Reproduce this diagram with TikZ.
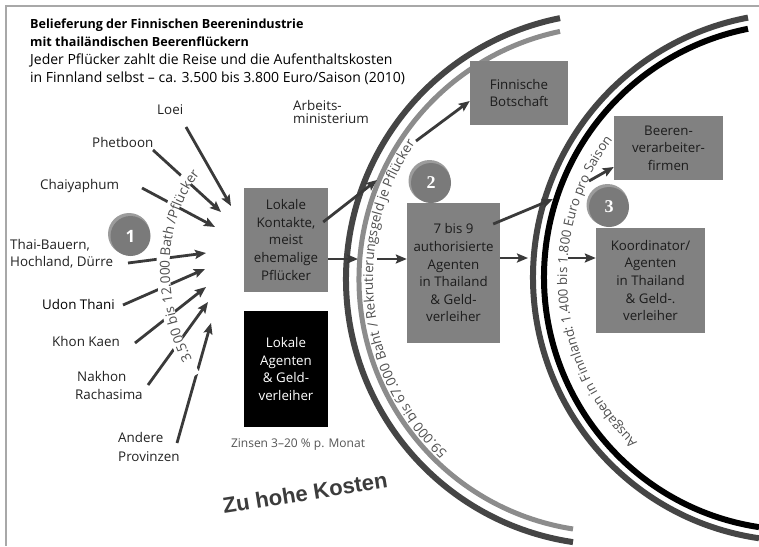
\documentclass[tikz,border=0pt]{standalone}
\usepackage{fontspec}
\setmainfont{Open Sans}
\newfontfamily\zufont{Liberation Sans}
\newfontfamily\numserif{Liberation Serif}
\usetikzlibrary{arrows.meta,decorations.text}
\definecolor{arr}{HTML}{3A3A3A}
\definecolor{darkarc}{HTML}{454545}
\definecolor{lightarc}{HTML}{8C8C8C}
\definecolor{boxgray}{HTML}{818181}
\definecolor{boxtext}{HTML}{1C1C1C}
\definecolor{arctext}{HTML}{505050}
\definecolor{framec}{HTML}{A8A8A8}
\definecolor{badge}{HTML}{7A7A7A}
\definecolor{badgehi}{HTML}{9C9C9C}
\definecolor{labtext}{HTML}{222222}
\definecolor{zinscol}{HTML}{555555}
\definecolor{zucol}{HTML}{3C3C3C}
\newcommand\bxfont{\fontsize{13.3}{17.6}\selectfont}
\newcommand\lbfont{\fontsize{13.4}{15}\selectfont}
\newcommand\ttfnt{\fontsize{12.6}{15}\selectfont}
\newcommand\subfnt{\fontsize{14}{15}\selectfont}
\newcommand\arcfnta{\fontsize{13.5}{14}\selectfont}
\newcommand\arcfntb{\fontsize{13.2}{14}\selectfont}
\newcommand\arcfntc{\fontsize{13.6}{14}\selectfont}
\begin{document}
\begin{tikzpicture}[x=1pt,y=-1pt,
  conn/.style={draw=arr, line width=2.8pt, -{Stealth[length=11pt,width=9pt,inset=2pt]}},
  graybox/.style={fill=boxgray, text=boxtext, align=center, inner sep=0pt, font=\bxfont},
  lab/.style={anchor=base west, inner sep=0pt, font=\lbfont, text=labtext},
  ttl/.style={anchor=base west, inner sep=0pt, font=\ttfnt\bfseries, text=black},
  sub/.style={anchor=base west, inner sep=0pt, font=\subfnt, text=black},
  badgec/.style={circle, fill=badge, minimum size=40pt, inner sep=0pt, text=white},
  zu/.style={inner sep=0pt, rotate=9, font=\zufont\bfseries\fontsize{22}{22}\selectfont}]
\useasboundingbox (0,0) rectangle (759,546);
\fill[white] (0,0) rectangle (759,546);
% frame
\draw[framec, line width=2pt] (5,6) -- (759,6);
\draw[framec, line width=2pt] (6,5) -- (6,546);
% arc centres
\coordinate (C1) at (612,279);
\coordinate (C2) at (797,277);
% arcs
\draw[darkarc, line width=6pt] (C1) ++(-98.43:266pt) arc[start angle=-98.43, end angle=-258.73, radius=266pt];
\draw[lightarc, line width=5pt] (C1) ++(-98.87:253pt) arc[start angle=-98.87, end angle=-258.14, radius=253pt];
\draw[darkarc, line width=6pt] (C2) ++(-98.28:264pt) arc[start angle=-98.28, end angle=-259.30, radius=264pt];
\draw[black, line width=6pt] (C2) ++(-98.64:253pt) arc[start angle=-98.64, end angle=-258.83, radius=253pt];
% arc texts
\path[decorate, decoration={text along path, text color=arctext, text align=center,
  text={|\arcfnta|59.000 bis 67.000 Baht / Rekrutierungsgeld je Pflücker}}]
  (C1) ++(-124:239pt) arc[start angle=-124, end angle=-224, radius=239pt];
\path[decorate, decoration={text along path, text color=arctext, text align=center,
  text={|\arcfntb|Ausgaben in Finnland: 1.400 bis 1.800 Euro pro Saison}}]
  (C2) ++(-125.3:230pt) arc[start angle=-125.3, end angle=-225.3, radius=230pt];
% title
\node[ttl] (t1) at (30,28) {Belieferung der Finnischen Beerenindustrie};
\node[ttl] (t2) at (30,46) {mit thailändischen Beerenflückern};
\node[sub] (t3) at (30,64) {Jeder Pflücker zahlt die Reise und die Aufenthaltskosten};
\node[sub] (t4) at (30,82) {in Finnland selbst – ca. 3.500 bis 3.800 Euro/Saison (2010)};
% province labels
\node[lab] (loei) at (157,114) {Loei};
\node[lab] (phet) at (92,147) {Phetboon};
\node[lab] (chai) at (40,189) {Chaiyaphum};
\node[lab] (thai1) at (10,249) {Thai-Bauern,};
\node[lab] (thai2) at (10,266) {Hochland, Dürre};
\node[lab, text=black] (udon) at (42,309) {Udon Thani};
\node[lab] (khon) at (52,346) {Khon Kaen};
\node[lab] (nak1) at (77,381) {Nakhon};
\node[lab] (nak2) at (75,399) {Rachasima};
\node[lab] (and1) at (118,442) {Andere};
\node[lab] (and2) at (118,461) {Provinzen};
% province arrows
\coordinate (s1) at (186,127); \coordinate (e1) at (231,206);
\coordinate (s2) at (153,150); \coordinate (e2) at (221,212);
\coordinate (s3) at (142,188); \coordinate (e3) at (215,227);
\coordinate (s4) at (128,263); \coordinate (e4) at (206,253);
\coordinate (s5) at (123,305); \coordinate (e5) at (205,269);
\coordinate (s6) at (135,343); \coordinate (e6) at (206,287);
\coordinate (s7) at (148,385); \coordinate (e7) at (208,302);
\coordinate (s8) at (177,443); \coordinate (e8) at (211,323);
\foreach \i in {1,...,8} {\draw[conn] (s\i) -- (e\i);}
% knock-out and curved label
\draw[white, line width=13pt] (194,376) .. controls (152,305) and (152,213) .. (199,163);
\path[decorate, decoration={text along path, text color=arctext, text align=center,
  text={|\arcfntc|3.500 bis 12.000 Bath /Pflücker}}]
  (200,373) .. controls (158,305) and (158,215) .. (210,162);
% badge 1
\fill[badgehi] (129,234) circle[radius=21pt];
\node[badgec, font=\bfseries\fontsize{17}{17}\selectfont] (b1) at (130.5,236) {1};
% boxes
\node[graybox, minimum width=84pt, minimum height=104pt] (kontakte) at (286,240)
  {Lokale\\Kontakte,\\meist\\ehemalige\\Pflücker};
\node[fill=black, text=white, align=center, inner sep=0pt, font=\bxfont,
  minimum width=84pt, minimum height=116pt] (lokag) at (286,369)
  {Lokale\\Agenten\\\& Geld-\\verleiher};
\node[graybox, minimum width=98pt, minimum height=64pt] (botschaft) at (519,93)
  {Finnische\\Botschaft};
\node[graybox, minimum width=93pt, minimum height=140pt] (agenten) at (453.5,273)
  {7 bis 9\\authorisierte\\Agenten\\in Thailand\\\& Geld-\\verleiher};
\node[graybox, minimum width=109pt, minimum height=64pt] (beeren) at (668.5,148)
  {Beeren-\\verarbeiter-\\firmen};
\node[graybox, minimum width=109pt, minimum height=105pt] (koord) at (650.5,280.5)
  {Koordinator/\\Agenten\\in Thailand\\\& Geld-.\\verleiher};
% middle arrows
\coordinate (x1) at (358,259);
\coordinate (x2) at (377,259);
\coordinate (x3) at (377,180);
\coordinate (x4) at (416,141);
\coordinate (x5) at (553,199);
\coordinate (x6) at (589,181);
\coordinate (x7) at (528,258);
\coordinate (x8) at (568,258);
\draw[conn] (kontakte.east |- x1) -- (x1);
\draw[conn] (x2) -- (agenten.west |- x2);
\draw[conn] ([xshift=-5pt,yshift=18pt]kontakte.east) -- (x3);
\draw[conn] (x4) -- ([yshift=-8pt]botschaft.west);
\draw[conn] ([xshift=-7pt,yshift=49pt]agenten.east) -- (x5);
\draw[conn] (x6) -- ([yshift=-19pt]beeren.west);
\draw[conn] (agenten.east |- x7) -- (x7);
\draw[conn] (x8) -- (koord.west |- x8);
% badges 2 and 3
\fill[badgehi] (429.5,181) circle[radius=21pt];
\node[badgec, font=\numserif\bfseries\fontsize{18}{18}\selectfont] (b2) at (431,183) {2};
\fill[badgehi] (607.5,205) circle[radius=21pt];
\node[badgec, font=\numserif\bfseries\fontsize{18}{18}\selectfont] (b3) at (609,207) {3};
% other labels
\node[lab] (arb1) at (293,110) {Arbeits-};
\node[lab] (arb2) at (293,123) {ministerium};
\node[inner sep=0pt, text=zinscol, font=\fontsize{12}{13}\selectfont] (zins) at (298,445) {Zinsen 3–20 \% p. Monat};
\node[zu, text=zucol] (zutext) at (305,493) {Zu hohe Kosten};
\end{tikzpicture}
\end{document}
